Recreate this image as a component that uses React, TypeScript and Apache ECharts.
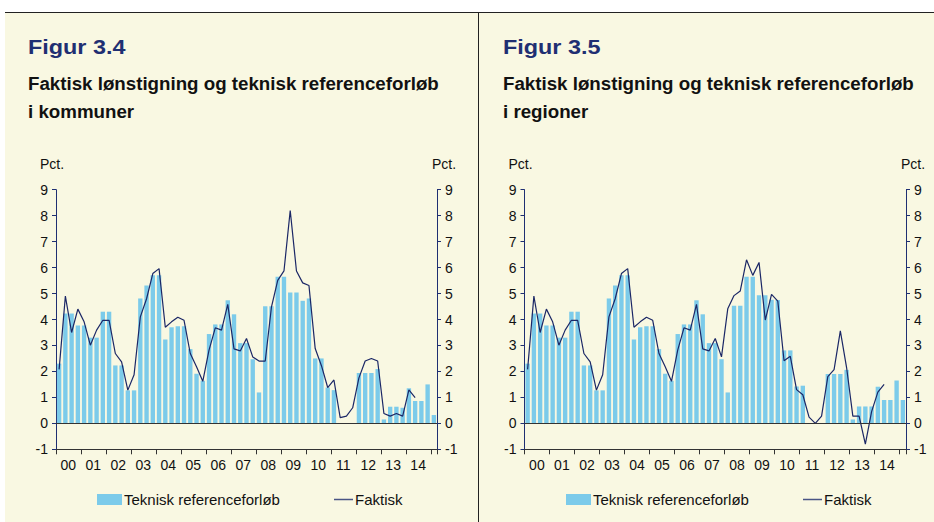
import React, { useEffect, useRef } from "react";
import * as echarts from "echarts";

const yearLabels = ["00", "01", "02", "03", "04", "05", "06", "07", "08", "09", "10", "11", "12", "13", "14"];
const quarters: string[] = yearLabels
  .flatMap((y) => ["K1", "K2", "K3", "K4"].map((q) => `${y}${q}`))
  .concat(["15K1"]);

const yTicks = { min: -1, max: 9, interval: 1 };

// Figur 3.4 – kommuner
const kommunerReferanse: (number | null)[] = [
  2.3, 4.23, 4.23, 3.77, 3.77, 3.3, 3.3, 4.3, 4.3, 2.23, 2.23, 1.27, 1.27, 4.81, 5.31, 5.7, 5.7, 3.23, 3.7, 3.74,
  3.74, 2.86, 1.91, 1.64, 3.44, 3.81, 3.81, 4.74, 4.2, 3.09, 3.09, 2.47, 1.19, 4.51, 4.51, 5.65, 5.65, 5.04, 5.04, 4.72,
  4.81, 2.5, 2.5, 1.38, 1.28, null, null, null, 1.94, 1.94, 1.94, 2.09, 0.15, 0.64, 0.64, 0.6, 1.35, 0.86, 0.86, 1.5,
  0.32,
];
const kommunerFaktisk: (number | null)[] = [
  2.08, 4.9, 3.5, 4.4, 3.91, 3.01, 3.59, 3.97, 3.97, 2.69, 2.37, 1.28, 1.87, 4.1, 4.8, 5.77, 5.96, 3.7, 3.91, 4.09,
  3.97, 2.69, 2.18, 1.62, 2.82, 3.68, 3.59, 4.58, 2.87, 2.79, 3.27, 2.56, 2.4, 2.4, 4.49, 5.51, 5.87, 8.2, 5.87, 5.41,
  5.31, 2.88, 2.22, 1.38, 1.67, 0.22, 0.28, 0.6, 1.75, 2.4, 2.5, 2.4, 0.38, 0.28, 0.38, 0.28, 1.29, 0.99, null, null,
  null,
];

// Figur 3.5 – regioner
const regionerReferanse: (number | null)[] = [
  2.3, 4.23, 4.23, 3.77, 3.77, 3.3, 3.3, 4.3, 4.3, 2.23, 2.23, 1.27, 1.27, 4.81, 5.31, 5.7, 5.7, 3.23, 3.7, 3.74,
  3.74, 2.86, 1.91, 1.64, 3.44, 3.81, 3.81, 4.74, 4.2, 3.09, 3.09, 2.47, 1.19, 4.53, 4.53, 5.65, 5.65, 4.93, 4.93, 4.76,
  4.75, 2.81, 2.81, 1.42, 1.45, null, null, null, 1.9, 1.9, 1.9, 2.06, 0.15, 0.65, 0.65, 0.65, 1.41, 0.9, 0.9, 1.65,
  0.9,
];
const regionerFaktisk: (number | null)[] = [
  2.08, 4.9, 3.5, 4.4, 3.91, 3.01, 3.59, 3.97, 3.97, 2.69, 2.37, 1.28, 1.87, 4.1, 4.8, 5.77, 5.96, 3.7, 3.91, 4.09,
  3.97, 2.69, 2.18, 1.62, 2.82, 3.68, 3.59, 4.58, 2.87, 2.79, 3.27, 2.56, 4.41, 4.92, 5.1, 6.3, 5.7, 6.2, 3.98, 4.97,
  4.71, 2.41, 2.58, 1.3, 1.1, 0.24, 0.0, 0.28, 1.8, 2.07, 3.56, 2.15, 0.28, 0.28, -0.8, 0.45, 1.2, 1.5, null, null,
  null,
];

const panels = [
  { figur: "Figur 3.4", line1: "Faktisk lønstigning og teknisk referenceforløb", line2: "i kommuner", bars: kommunerReferanse, line: kommunerFaktisk },
  { figur: "Figur 3.5", line1: "Faktisk lønstigning og teknisk referenceforløb", line2: "i regioner", bars: regionerReferanse, line: regionerFaktisk },
];

const BAR_NAME = "Teknisk referenceforløb";
const LINE_NAME = "Faktisk";

const FONT = "'Liberation Sans', Arial, sans-serif";
const NAVY = "#1f2f72";
const BAR = "#7ccbea";
const LINE = "#1b2766";

export default function App() {
  const ref = useRef<HTMLDivElement>(null);

  useEffect(() => {
    if (!ref.current) return;
    const chart = echarts.init(ref.current, null, { renderer: "svg" });

    const gridLefts = [56, 524.5];
    const gridRights = [934 - 437, 934 - 906];
    const textLefts = [28, 503];
    const legendLefts = [97, 566];
    const legendLineLefts = [334, 803];

    const grids: any[] = [];
    const xAxes: any[] = [];
    const yAxes: any[] = [];
    const series: any[] = [];
    const texts: any[] = [];
    const legends: any[] = [];

    panels.forEach((p, k) => {
      grids.push({ left: gridLefts[k], right: gridRights[k], top: 189.7, bottom: 72.7, containLabel: false });
      xAxes.push({
        type: "category",
        gridIndex: k,
        data: quarters,
        boundaryGap: true,
        axisLine: { show: true, onZero: false, lineStyle: { color: "#333", width: 1 } },
        axisTick: { show: true, interval: 3, length: 5, lineStyle: { color: "#333" } },
        axisLabel: {
          interval: 0,
          margin: 9,
          fontFamily: FONT,
          fontSize: 14,
          color: "#111",
          padding: [0, 0, 0, 6],
          formatter: (v: string, i: number) => (i % 4 === 1 && i < 60 ? v.slice(0, 2) : ""),
        },
        splitLine: { show: false },
      });
      const yBase = {
        type: "value",
        gridIndex: k,
        ...yTicks,
        splitLine: { show: false },
        axisLine: { show: true, lineStyle: { color: NAVY, width: 1 } },
        axisTick: { show: true, length: 4, lineStyle: { color: NAVY } },
        axisLabel: { fontFamily: FONT, fontSize: 14, color: "#111", margin: 8 },
        name: "Pct.",
        nameLocation: "end",
        nameGap: 19,
      };
      yAxes.push({
        ...yBase,
        position: "left",
        nameTextStyle: { fontFamily: FONT, fontSize: 14, color: "#111", align: "center", padding: [0, 8, 0, 0] },
      });
      yAxes.push({
        ...yBase,
        position: "right",
        nameTextStyle: { fontFamily: FONT, fontSize: 14, color: "#111", align: "center", padding: [0, 0, 0, 14] },
      });
      series.push({
        type: "bar",
        name: BAR_NAME,
        xAxisIndex: k,
        yAxisIndex: 2 * k,
        data: p.bars,
        barCategoryGap: "30%",
        itemStyle: { color: BAR },
        z: 2,
        markLine: {
          silent: true,
          symbol: "none",
          label: { show: false },
          lineStyle: { color: "#333", width: 1, type: "solid" },
          data: [{ yAxis: 0 }],
        },
      });
      series.push({
        type: "line",
        name: LINE_NAME,
        xAxisIndex: k,
        yAxisIndex: 2 * k,
        data: p.line,
        symbol: "none",
        connectNulls: false,
        lineStyle: { color: LINE, width: 1.2 },
        itemStyle: { color: LINE },
        z: 3,
      });
      texts.push({
        type: "text",
        x: textLefts[k],
        y: 48,
        scaleX: 1.2,
        style: {
          text: p.figur,
          font: `bold 19.5px ${FONT}`,
          fill: NAVY,
          textVerticalAlign: "middle",
          verticalAlign: "middle",
        },
      });
      texts.push({
        type: "text",
        x: textLefts[k],
        y: 84,
        scaleX: 1.04,
        style: {
          text: p.line1,
          font: `bold 18px ${FONT}`,
          fill: "#111",
          textVerticalAlign: "middle",
          verticalAlign: "middle",
        },
      });
      texts.push({
        type: "text",
        x: textLefts[k],
        y: 112,
        scaleX: 1.04,
        style: {
          text: p.line2,
          font: `bold 18px ${FONT}`,
          fill: "#111",
          textVerticalAlign: "middle",
          verticalAlign: "middle",
        },
      });
      legends.push({
        data: [{ name: BAR_NAME, icon: "rect" }],
        left: legendLefts[k],
        top: 492,
        padding: 0,
        itemWidth: 25,
        itemHeight: 11,
        selectedMode: false,
        textStyle: { fontFamily: FONT, fontSize: 15, color: "#111", padding: [0, 0, 0, -3] },
      });
      legends.push({
        data: [{ name: LINE_NAME, icon: "rect", itemStyle: { color: "#4a5585" } }],
        left: legendLineLefts[k],
        top: 492,
        padding: 0,
        itemWidth: 19,
        itemHeight: 1.5,
        selectedMode: false,
        textStyle: { fontFamily: FONT, fontSize: 15, color: "#111", padding: [0, 0, 0, -3] },
      });
    });

    chart.setOption({
      animation: false,
      backgroundColor: "transparent",
      legend: legends,
      grid: grids,
      xAxis: xAxes,
      yAxis: yAxes,
      series,
      graphic: [
        { type: "line", shape: { x1: 5, y1: 12.5, x2: 934, y2: 12.5 }, style: { stroke: "#222", lineWidth: 1 } },
        { type: "line", shape: { x1: 478.5, y1: 12, x2: 478.5, y2: 522 }, style: { stroke: "#222", lineWidth: 1 } },
        ...texts,
      ],
    });

    return () => chart.dispose();
  }, []);

  return (
    <div style={{ position: "absolute", left: 0, top: 0, width: 934, height: 522, background: "#fff" }}>
      <div style={{ position: "absolute", left: 5, top: 12, width: 929, height: 510, background: "#f9f8e2" }} />
      <div ref={ref} style={{ position: "absolute", left: 0, top: 0, width: 934, height: 522 }} />
    </div>
  );
}
